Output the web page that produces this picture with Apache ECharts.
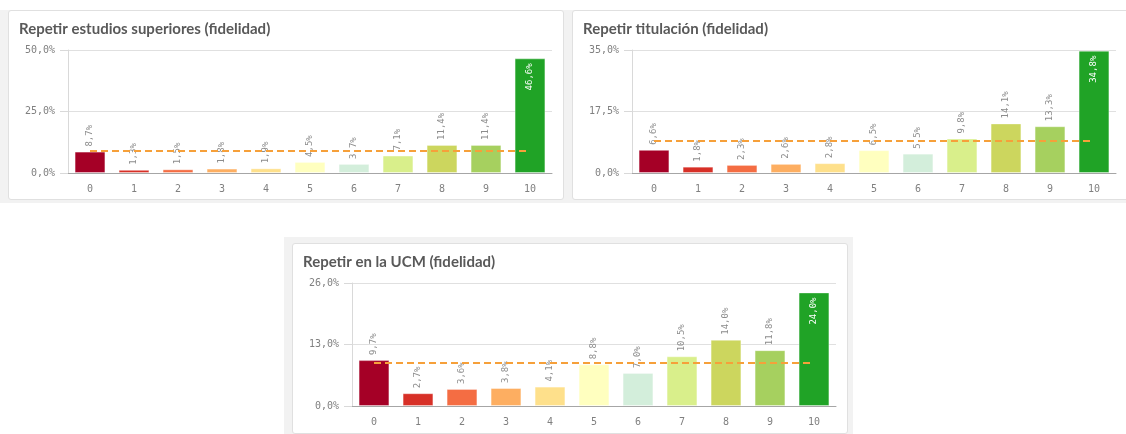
<!DOCTYPE html>
<html>
<head>
<meta charset="utf-8">
<script src="https://cdn.jsdelivr.net/npm/echarts@6/dist/echarts.min.js"></script>
<style>
  html, body { margin: 0; padding: 0; background: #fff; width: 1126px; height: 434px; overflow: hidden; position: relative; }
  .back { position: absolute; background: #f2f2f2; }
  .card { position: absolute; background: #fff; border: 1px solid #e0e0e0; border-radius: 3px; box-sizing: border-box; }
</style>
</head>
<body>
<div class="back" style="left:0;top:10px;width:1126px;height:193px"></div>
<div class="back" style="left:284px;top:237px;width:569px;height:197px"></div>
<div class="card" id="c1" style="left:8px;top:10px;width:556px;height:190px"></div>
<div class="card" id="c2" style="left:572px;top:10px;width:558px;height:190px"></div>
<div class="card" id="c3" style="left:292px;top:243px;width:556px;height:191px"></div>
<script>
// categorías (nota 0-10)
var notas = ['0', '1', '2', '3', '4', '5', '6', '7', '8', '9', '10'];
// porcentajes de cada panel
var estudiosSup = [8.7, 1.3, 1.5, 1.8, 1.9, 4.5, 3.7, 7.1, 11.4, 11.4, 46.6];
var titulacion = [6.6, 1.8, 2.3, 2.6, 2.8, 6.5, 5.5, 9.8, 14.1, 13.3, 34.8];
var enUCM = [9.7, 2.7, 3.6, 3.8, 4.1, 8.8, 7.0, 10.5, 14.0, 11.8, 24.0];
// escalas del eje Y
var ejeMax = [50, 35, 26];
var ejeIntervalo = [25, 17.5, 13];
var titulos = ['Repetir estudios superiores (fidelidad)', 'Repetir titulación (fidelidad)', 'Repetir en la UCM (fidelidad)'];

// colores por nota (rojo -> verde)
var colores = ['#a50026', '#d73027', '#f46d43', '#fdae61', '#fee08b', '#ffffbf',
               '#d3eedb', '#d9ef8b', '#ccd65e', '#a6d05f', '#20a326'];

function fmt(v) {
    return v.toFixed(1).replace('.', ',') + '%';
}

function crearGrafico(id, titulo, datos, max, intervalo) {
    var chart = echarts.init(document.getElementById(id));
    var media = datos.reduce(function (a, b) { return a + b; }, 0) / datos.length;
    var mayor = Math.max.apply(null, datos);
    var mono = 'DejaVu Sans Mono';
    var serie = datos.map(function (v, i) {
        var item = { value: v, itemStyle: { color: colores[i] } };
        if (v === mayor) {
            // la barra mayor lleva la etiqueta dentro, en blanco
            item.label = { position: 'insideTop', align: 'right', distance: 5, color: '#fff' };
        }
        return item;
    });
    var option = {
        animation: false,
        title: {
            text: titulo,
            left: 5,
            top: 6,
            textStyle: { fontFamily: 'Lato', fontWeight: 'bold', fontSize: 15, color: '#595959' }
        },
        grid: { left: 59, top: 39, width: 484, height: 123 },
        xAxis: {
            type: 'category',
            data: notas,
            axisTick: { show: false },
            axisLine: { lineStyle: { color: '#a6a6a6', width: 1 } },
            axisLabel: { color: '#808080', fontFamily: mono, fontSize: 10, margin: 11 }
        },
        yAxis: {
            type: 'value',
            min: 0,
            max: max,
            interval: intervalo,
            axisLine: { show: true, lineStyle: { color: '#d9d9d9' } },
            axisTick: { show: true, length: 8, lineStyle: { color: '#d9d9d9' } },
            splitLine: { lineStyle: { color: '#e0e0e0' } },
            axisLabel: { color: '#808080', fontFamily: mono, fontSize: 10, margin: 13, formatter: fmt }
        },
        series: [{
            type: 'bar',
            barWidth: '70%',
            data: serie,
            itemStyle: { borderColor: 'rgba(255,255,255,0.35)', borderWidth: 1 },
            label: {
                show: true,
                position: 'top',
                rotate: 90,
                align: 'left',
                verticalAlign: 'middle',
                distance: 5,
                color: '#8c8c8c',
                fontFamily: mono,
                fontSize: 9,
                formatter: function (p) { return fmt(p.value); }
            },
            markLine: {
                silent: true,
                symbol: ['none', 'none'],
                label: { show: false },
                lineStyle: { color: '#f6a03a', type: [7, 4], width: 2 },
                data: [[{ coord: [0, media] }, { coord: [notas.length - 1, media] }]]
            }
        }]
    };
    chart.setOption(option);
    return chart;
}

crearGrafico('c1', titulos[0], estudiosSup, ejeMax[0], ejeIntervalo[0]);
crearGrafico('c2', titulos[1], titulacion, ejeMax[1], ejeIntervalo[1]);
crearGrafico('c3', titulos[2], enUCM, ejeMax[2], ejeIntervalo[2]);
</script>
</body>
</html>
